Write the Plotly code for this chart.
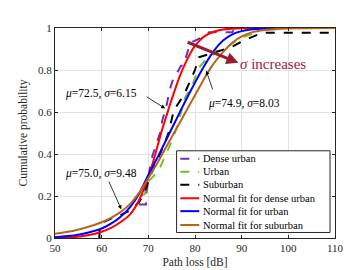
import plotly.graph_objects as go

# ---------------- data ----------------
dense_x = [68, 69.5, 69.6, 70, 70.5, 71, 71.5, 72, 72.5, 73, 73.5, 74, 74.5, 75, 75.5, 76, 77, 77.5, 78, 79, 80, 81, 83, 84, 88, 88.5, 110]
dense_y = [0.16, 0.16, 0.22, 0.28, 0.36, 0.40, 0.43, 0.46, 0.50, 0.56, 0.60, 0.64, 0.70, 0.73, 0.77, 0.78, 0.82, 0.82, 0.86, 0.93, 0.94, 0.95, 0.98, 0.98, 0.98, 1.0, 1.0]

urban_x = [68.5, 69.3, 69.4, 70, 70.7, 71.4, 72.2, 73, 73.6, 74.3, 75, 76, 76.4, 77.1, 77.9, 79.3, 80.8, 82, 84.3, 86.9, 89.5, 92, 95, 110]
urban_y = [0.20, 0.21, 0.24, 0.27, 0.285, 0.30, 0.32, 0.36, 0.39, 0.43, 0.46, 0.52, 0.55, 0.61, 0.67, 0.72, 0.81, 0.84, 0.88, 0.91, 0.95, 0.97, 1.0, 1.0]

sub_x = [59.5, 59.6, 60.5, 62, 64, 66, 68, 69, 69.8, 70.5, 71.5, 72.5, 73.5, 74.3, 75, 75.5, 77, 78, 79, 80, 80.8, 83, 85, 86.8, 88.3, 90.4, 92.2, 94.4, 110]
sub_y = [0.0, 0.06, 0.077, 0.092, 0.108, 0.13, 0.17, 0.21, 0.255, 0.30, 0.35, 0.40, 0.45, 0.50, 0.56, 0.61, 0.66, 0.70, 0.75, 0.80, 0.86, 0.877, 0.89, 0.90, 0.915, 0.94, 0.955, 0.977, 0.977]

fit_dense_x = [50, 54, 57, 60, 62, 64, 66, 67, 68, 69, 70, 71, 72, 73, 74, 75, 76, 77, 78, 79, 80, 81, 82, 84, 86, 88, 92, 110]
fit_dense_y = [0.001, 0.004, 0.013, 0.03, 0.048, 0.075, 0.11, 0.14, 0.18, 0.23, 0.29, 0.36, 0.44, 0.52, 0.59, 0.66, 0.725, 0.785, 0.835, 0.88, 0.915, 0.94, 0.96, 0.982, 0.993, 0.997, 1.0, 1.0]

fit_urban_x = [50, 54, 57, 60, 62, 64, 66, 68, 70, 72, 74, 76, 78, 80, 82, 84, 86, 88, 90, 92, 95, 100, 110]
fit_urban_y = [0.004, 0.012, 0.025, 0.045, 0.068, 0.10, 0.145, 0.21, 0.30, 0.385, 0.475, 0.565, 0.655, 0.74, 0.82, 0.89, 0.94, 0.97, 0.985, 0.993, 0.998, 1.0, 1.0]

fit_sub_x = [50, 54, 57, 60, 62, 64, 66, 68, 70, 72, 74, 76, 78, 80, 82, 84, 86, 88, 90, 92, 95, 100, 110]
fit_sub_y = [0.02, 0.035, 0.052, 0.075, 0.096, 0.123, 0.16, 0.215, 0.285, 0.36, 0.44, 0.52, 0.60, 0.68, 0.76, 0.83, 0.885, 0.93, 0.96, 0.978, 0.99, 0.998, 1.0]

names = ["Dense urban", "Urban", "Suburban",
         "Normal fit for dense urban", "Normal fit for urban", "Normal fit for suburban"]

x_ticks = [50, 60, 70, 80, 90, 100, 110]
y_ticks = [0, 0.2, 0.4, 0.6, 0.8, 1]
y_tick_labels = ["0", "0.2", "0.4", "0.6", "0.8", "1"]

# ---------------- styles ----------------
colors = ["#6b2fbf", "#6fbf2a", "#000000", "#ff0000", "#0000ff", "#b8651b"]
dashes = ["dash", "dash", "dash", "solid", "solid", "solid"]
FONT = "Liberation Serif"

series = [(dense_x, dense_y), (urban_x, urban_y), (sub_x, sub_y),
          (fit_dense_x, fit_dense_y), (fit_urban_x, fit_urban_y), (fit_sub_x, fit_sub_y)]

fig = go.Figure()
for i, (xs, ys) in enumerate(series):
    fig.add_trace(go.Scatter(
        x=xs, y=ys, mode="lines", name=names[i], showlegend=False,
        line=dict(color=colors[i], width=2, dash=dashes[i],
                  shape="spline" if i >= 3 else "linear", smoothing=0.5),
    ))

# ---------------- annotations ----------------
ann = []
def arrow(x, y, ax, ay, color="black", width=0.8, size=1.0):
    ann.append(dict(x=x, y=y, ax=ax, ay=ay, xref="x", yref="y", axref="x", ayref="y",
                    text="", showarrow=True, arrowhead=2, arrowsize=size,
                    arrowwidth=width, arrowcolor=color))

def label(x, y, text, size=11.5, color="black"):
    ann.append(dict(x=x, y=y, xref="x", yref="y", text=text, showarrow=False,
                    font=dict(family=FONT, size=size, color=color)))

label(59.8, 0.69, "<i>μ</i>=72.5, <i>σ</i>=6.15")
arrow(73.6, 0.617, 69.3, 0.677)
label(90.4, 0.64, "<i>μ</i>=74.9, <i>σ</i>=8.03")
arrow(82.4, 0.797, 83.9, 0.70)
label(59.8, 0.308, "<i>μ</i>=75.0, <i>σ</i>=9.48")
arrow(64.2, 0.137, 61.4, 0.276)
arrow(89.3, 0.834, 78.1, 0.935, color="#9b1c31", width=3, size=0.8)
label(96.8, 0.83, "<i>σ</i> increases", size=15, color="#a0203a")

# ---------------- manual legend ----------------
def px2x(px):
    return (px - 46.7) / 280.0
def px2y(py):
    return (236.7 - py) / 216.7

shapes = [dict(type="rect", xref="paper", yref="paper",
               x0=px2x(168.3), x1=px2x(321.7), y0=px2y(231), y1=px2y(146.7),
               line=dict(color="#262626", width=1), fillcolor="white", layer="above")]
row_y = [155, 168.3, 181.7, 195.7, 209, 223.3]
for i, nm in enumerate(names):
    yy = px2y(row_y[i])
    shapes.append(dict(type="line", xref="paper", yref="paper",
                       x0=px2x(172), x1=px2x(191), y0=yy, y1=yy, layer="above",
                       line=dict(color=colors[i], width=2,
                                 dash="dash" if dashes[i] == "dash" else "solid")))
    ann.append(dict(x=px2x(193), y=yy, xref="paper", yref="paper", xanchor="left",
                    yanchor="middle", text=nm, showarrow=False,
                    font=dict(family=FONT, size=10.5, color="black")))

axis_common = dict(showgrid=True, gridcolor="#e3e3e3", gridwidth=1,
                   showline=True, linecolor="#262626", linewidth=1, mirror="ticks",
                   ticks="inside", ticklen=3, tickcolor="#262626", zeroline=False,
                   tickfont=dict(family=FONT, size=11, color="#262626"))

fig.update_layout(
    width=360, height=270,
    margin=dict(l=47, r=33, t=20, b=33),
    paper_bgcolor="white", plot_bgcolor="white",
    showlegend=False,
    xaxis=dict(range=[50, 110], tickvals=x_ticks,
               title=dict(text="Path loss [dB]", standoff=4,
                          font=dict(family=FONT, size=11.5, color="#262626")),
               **axis_common),
    yaxis=dict(range=[0, 1], tickvals=y_ticks, ticktext=y_tick_labels,
               title=dict(text="Cumulative probability", standoff=8,
                          font=dict(family=FONT, size=11.5, color="#262626")),
               **axis_common),
    annotations=ann,
    shapes=shapes,
)

fig.write_html("out.html")
